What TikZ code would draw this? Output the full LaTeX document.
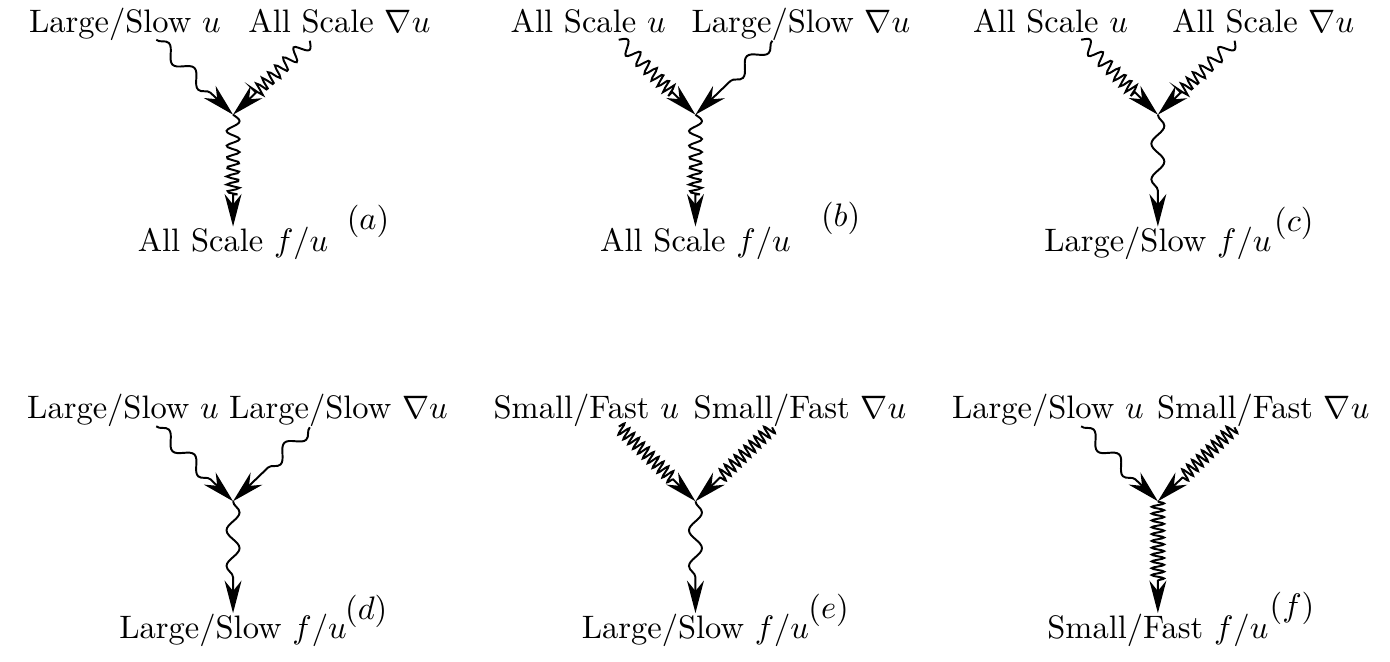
\documentclass[tikz,border=0pt]{standalone}
\usepackage{amsmath}
\usepackage{amssymb}
\usetikzlibrary{arrows.meta,decorations.pathmorphing}

% wave whose wavelength shrinks along the path (all scales)
\pgfdeclaredecoration{chirp}{run}{
\state{run}[width=0.5pt]{
\pgfmathsetmacro\chirps{\pgfdecoratedcompleteddistance+0.5}
\pgfmathsetmacro\chirpy{2*sin(360*(\chirps/9+(1/2.1-1/9)*\chirps*\chirps/(2*\pgfdecoratedpathlength)))}
\pgfpathlineto{\pgfpoint{0.5pt}{\chirpy pt}}
}
\state{final}{\pgfpathlineto{\pgfpointdecoratedpathlast}}
}

\tikzset{
largeslow/.style={line width=0.6pt,decorate,decoration={snake,segment length=11pt,amplitude=2pt,post length=9.5pt},-{Stealth[length=10pt,width=5.2pt,inset=3.2pt]}},
smallfast/.style={line width=0.6pt,decorate,decoration={snake,segment length=2.1pt,amplitude=1.9pt,post length=9.5pt},-{Stealth[length=10pt,width=5.2pt,inset=3.2pt]}},
allscale/.style={line width=0.6pt,decorate,decoration={chirp,post length=9.5pt},-{Stealth[length=10pt,width=5.2pt,inset=3.2pt]}},
lbl/.style={anchor=base,inner sep=0pt}
}

\begin{document}
\begin{tikzpicture}
\useasboundingbox (0,0) rectangle (15.03,-7.15);
% (a)
\begin{scope}[shift={(2.52,-1.24)}]
\coordinate (va) at (0,0);
\node[lbl] (ua) at (-1.17,0.89) {Large/Slow $u$};
\node[lbl] (ga) at (1.15,0.89) {All Scale $\nabla u$};
\node[lbl] (fa) at (0,-1.48) {All Scale $f/u$};
\node (ta) at (1.46,-1.15) {$(a)$};
\coordinate (ua1) at (-0.83,0.81);
\coordinate (ga1) at (0.83,0.80);
\draw[largeslow] (ua1) -- (va);
\draw[allscale] (ga1) -- (va);
\draw[allscale] (va) -- (fa.north);
\end{scope}
% (b)
\begin{scope}[shift={(7.52,-1.24)}]
\coordinate (vb) at (0,0);
\node[lbl] (ub) at (-1.16,0.89) {All Scale $u$};
\node[lbl] (gb) at (1.14,0.89) {Large/Slow $\nabla u$};
\node[lbl] (fb) at (0,-1.48) {All Scale $f/u$};
\node (tb) at (1.57,-1.12) {$(b)$};
\coordinate (ub1) at (-0.83,0.81);
\coordinate (gb1) at (0.83,0.80);
\draw[allscale] (ub1) -- (vb);
\draw[largeslow] (gb1) -- (vb);
\draw[allscale] (vb) -- (fb.north);
\end{scope}
% (c)
\begin{scope}[shift={(12.52,-1.24)}]
\coordinate (vc) at (0,0);
\node[lbl] (uc) at (-1.16,0.89) {All Scale $u$};
\node[lbl] (gc) at (1.14,0.89) {All Scale $\nabla u$};
\node[lbl] (fc) at (0,-1.48) {Large/Slow $f/u$};
\node (tc) at (1.47,-1.18) {$(c)$};
\coordinate (uc1) at (-0.83,0.81);
\coordinate (gc1) at (0.83,0.80);
\draw[allscale] (uc1) -- (vc);
\draw[allscale] (gc1) -- (vc);
\draw[largeslow] (vc) -- (fc.north);
\end{scope}
% (d)
\begin{scope}[shift={(2.52,-5.42)}]
\coordinate (vd) at (0,0);
\node[lbl] (ud) at (-1.19,0.89) {Large/Slow $u$};
\node[lbl] (gd) at (1.14,0.89) {Large/Slow $\nabla u$};
\node[lbl] (fd) at (0,-1.48) {Large/Slow $f/u$};
\node (td) at (1.44,-1.19) {$(d)$};
\coordinate (ud1) at (-0.83,0.81);
\coordinate (gd1) at (0.83,0.80);
\draw[largeslow] (ud1) -- (vd);
\draw[largeslow] (gd1) -- (vd);
\draw[largeslow] (vd) -- (fd.north);
\end{scope}
% (e)
\begin{scope}[shift={(7.52,-5.42)}]
\coordinate (ve) at (0,0);
\node[lbl] (ue) at (-1.18,0.89) {Small/Fast $u$};
\node[lbl] (ge) at (1.13,0.89) {Small/Fast $\nabla u$};
\node[lbl] (fe) at (0,-1.48) {Large/Slow $f/u$};
\node (te) at (1.44,-1.18) {$(e)$};
\coordinate (ue1) at (-0.83,0.81);
\coordinate (ge1) at (0.83,0.80);
\draw[smallfast] (ue1) -- (ve);
\draw[smallfast] (ge1) -- (ve);
\draw[largeslow] (ve) -- (fe.north);
\end{scope}
% (f)
\begin{scope}[shift={(12.52,-5.42)}]
\coordinate (vf) at (0,0);
\node[lbl] (uf) at (-1.19,0.89) {Large/Slow $u$};
\node[lbl] (gf) at (1.14,0.89) {Small/Fast $\nabla u$};
\node[lbl] (ff) at (0,-1.48) {Small/Fast $f/u$};
\node (tf) at (1.45,-1.16) {$(f)$};
\coordinate (uf1) at (-0.83,0.81);
\coordinate (gf1) at (0.83,0.80);
\draw[largeslow] (uf1) -- (vf);
\draw[smallfast] (gf1) -- (vf);
\draw[smallfast] (vf) -- (ff.north);
\end{scope}
\end{tikzpicture}
\end{document}
